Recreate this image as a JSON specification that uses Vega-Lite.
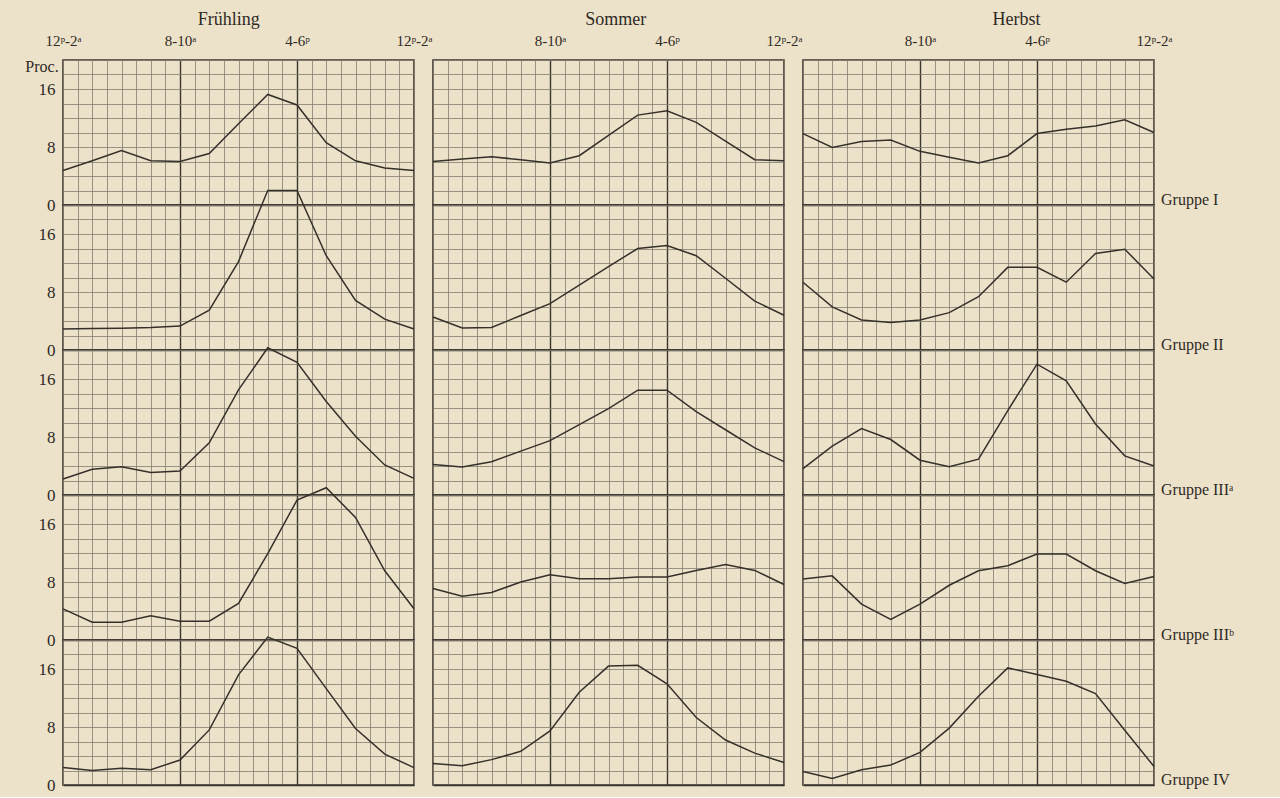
{
 "$schema": "https://vega.github.io/schema/vega-lite/v6.json",
 "background": "#ece2c9",
 "padding": {"left": 25, "top": 11, "right": 52, "bottom": 4},
 "config": {
  "font": "Liberation Serif",
  "view": {"stroke": "#3a352f", "strokeWidth": 1.6},
  "title": {"fontSize": 18, "fontWeight": "normal", "color": "#2f2a25", "offset": 4, "font": "Liberation Serif", "anchor": "middle"},
  "axis": {"labelFont": "Liberation Serif", "labelFontSize": 15, "labelColor": "#2f2a25", "ticks": false, "domain": false, "title": null, "gridOpacity": 1, "minExtent": 0},
  "header": {"labelFont": "Liberation Serif", "titleFont": "Liberation Serif", "labelColor": "#2f2a25", "titleColor": "#2f2a25", "titleFontWeight": "normal"}
 },
 "datasets": {
  "fr": [
   {"g":"Gruppe I","t":0,"v":4.75},{"g":"Gruppe I","t":2,"v":6.1},{"g":"Gruppe I","t":4,"v":7.5},{"g":"Gruppe I","t":6,"v":6.1},{"g":"Gruppe I","t":8,"v":6.0},{"g":"Gruppe I","t":10,"v":7.1},{"g":"Gruppe I","t":12,"v":11.2},{"g":"Gruppe I","t":14,"v":15.25},{"g":"Gruppe I","t":16,"v":13.8},{"g":"Gruppe I","t":18,"v":8.6},{"g":"Gruppe I","t":20,"v":6.1},{"g":"Gruppe I","t":22,"v":5.1},{"g":"Gruppe I","t":24,"v":4.75},
   {"g":"Gruppe II","t":0,"v":2.9},{"g":"Gruppe II","t":2,"v":2.95},{"g":"Gruppe II","t":4,"v":3.0},{"g":"Gruppe II","t":6,"v":3.1},{"g":"Gruppe II","t":8,"v":3.3},{"g":"Gruppe II","t":10,"v":5.5},{"g":"Gruppe II","t":12,"v":12.2},{"g":"Gruppe II","t":14,"v":22.0},{"g":"Gruppe II","t":16,"v":22.0},{"g":"Gruppe II","t":18,"v":13.0},{"g":"Gruppe II","t":20,"v":6.85},{"g":"Gruppe II","t":22,"v":4.25},{"g":"Gruppe II","t":24,"v":2.9},
   {"g":"Gruppe IIIᵃ","t":0,"v":2.2},{"g":"Gruppe IIIᵃ","t":2,"v":3.55},{"g":"Gruppe IIIᵃ","t":4,"v":3.9},{"g":"Gruppe IIIᵃ","t":6,"v":3.1},{"g":"Gruppe IIIᵃ","t":8,"v":3.3},{"g":"Gruppe IIIᵃ","t":10,"v":7.2},{"g":"Gruppe IIIᵃ","t":12,"v":14.5},{"g":"Gruppe IIIᵃ","t":14,"v":20.3},{"g":"Gruppe IIIᵃ","t":16,"v":18.3},{"g":"Gruppe IIIᵃ","t":18,"v":12.9},{"g":"Gruppe IIIᵃ","t":20,"v":8.1},{"g":"Gruppe IIIᵃ","t":22,"v":4.15},{"g":"Gruppe IIIᵃ","t":24,"v":2.3},
   {"g":"Gruppe IIIᵇ","t":0,"v":4.3},{"g":"Gruppe IIIᵇ","t":2,"v":2.45},{"g":"Gruppe IIIᵇ","t":4,"v":2.45},{"g":"Gruppe IIIᵇ","t":6,"v":3.35},{"g":"Gruppe IIIᵇ","t":8,"v":2.6},{"g":"Gruppe IIIᵇ","t":10,"v":2.6},{"g":"Gruppe IIIᵇ","t":12,"v":5.05},{"g":"Gruppe IIIᵇ","t":14,"v":11.9},{"g":"Gruppe IIIᵇ","t":16,"v":19.3},{"g":"Gruppe IIIᵇ","t":18,"v":21.0},{"g":"Gruppe IIIᵇ","t":20,"v":16.9},{"g":"Gruppe IIIᵇ","t":22,"v":9.55},{"g":"Gruppe IIIᵇ","t":24,"v":4.3},
   {"g":"Gruppe IV","t":0,"v":2.4},{"g":"Gruppe IV","t":2,"v":2.0},{"g":"Gruppe IV","t":4,"v":2.3},{"g":"Gruppe IV","t":6,"v":2.1},{"g":"Gruppe IV","t":8,"v":3.45},{"g":"Gruppe IV","t":10,"v":7.6},{"g":"Gruppe IV","t":12,"v":15.2},{"g":"Gruppe IV","t":14,"v":20.4},{"g":"Gruppe IV","t":16,"v":18.85},{"g":"Gruppe IV","t":18,"v":13.3},{"g":"Gruppe IV","t":20,"v":7.8},{"g":"Gruppe IV","t":22,"v":4.25},{"g":"Gruppe IV","t":24,"v":2.4}
  ],
  "so": [
   {"g":"Gruppe I","t":0,"v":6.0},{"g":"Gruppe I","t":2,"v":6.35},{"g":"Gruppe I","t":4,"v":6.65},{"g":"Gruppe I","t":6,"v":6.25},{"g":"Gruppe I","t":8,"v":5.8},{"g":"Gruppe I","t":10,"v":6.8},{"g":"Gruppe I","t":12,"v":9.6},{"g":"Gruppe I","t":14,"v":12.4},{"g":"Gruppe I","t":16,"v":13.0},{"g":"Gruppe I","t":18,"v":11.4},{"g":"Gruppe I","t":20,"v":8.8},{"g":"Gruppe I","t":22,"v":6.25},{"g":"Gruppe I","t":24,"v":6.1},
   {"g":"Gruppe II","t":0,"v":4.55},{"g":"Gruppe II","t":2,"v":3.05},{"g":"Gruppe II","t":4,"v":3.1},{"g":"Gruppe II","t":6,"v":4.75},{"g":"Gruppe II","t":8,"v":6.4},{"g":"Gruppe II","t":10,"v":8.95},{"g":"Gruppe II","t":12,"v":11.5},{"g":"Gruppe II","t":14,"v":14.0},{"g":"Gruppe II","t":16,"v":14.4},{"g":"Gruppe II","t":18,"v":13.0},{"g":"Gruppe II","t":20,"v":9.9},{"g":"Gruppe II","t":22,"v":6.75},{"g":"Gruppe II","t":24,"v":4.8},
   {"g":"Gruppe IIIᵃ","t":0,"v":4.2},{"g":"Gruppe IIIᵃ","t":2,"v":3.85},{"g":"Gruppe IIIᵃ","t":4,"v":4.6},{"g":"Gruppe IIIᵃ","t":6,"v":6.05},{"g":"Gruppe IIIᵃ","t":8,"v":7.5},{"g":"Gruppe IIIᵃ","t":10,"v":9.7},{"g":"Gruppe IIIᵃ","t":12,"v":11.9},{"g":"Gruppe IIIᵃ","t":14,"v":14.45},{"g":"Gruppe IIIᵃ","t":16,"v":14.45},{"g":"Gruppe IIIᵃ","t":18,"v":11.5},{"g":"Gruppe IIIᵃ","t":20,"v":9.0},{"g":"Gruppe IIIᵃ","t":22,"v":6.5},{"g":"Gruppe IIIᵃ","t":24,"v":4.6},
   {"g":"Gruppe IIIᵇ","t":0,"v":7.1},{"g":"Gruppe IIIᵇ","t":2,"v":6.05},{"g":"Gruppe IIIᵇ","t":4,"v":6.55},{"g":"Gruppe IIIᵇ","t":6,"v":8.0},{"g":"Gruppe IIIᵇ","t":8,"v":9.0},{"g":"Gruppe IIIᵇ","t":10,"v":8.45},{"g":"Gruppe IIIᵇ","t":12,"v":8.45},{"g":"Gruppe IIIᵇ","t":14,"v":8.7},{"g":"Gruppe IIIᵇ","t":16,"v":8.7},{"g":"Gruppe IIIᵇ","t":18,"v":9.6},{"g":"Gruppe IIIᵇ","t":20,"v":10.4},{"g":"Gruppe IIIᵇ","t":22,"v":9.6},{"g":"Gruppe IIIᵇ","t":24,"v":7.65},
   {"g":"Gruppe IV","t":0,"v":2.95},{"g":"Gruppe IV","t":2,"v":2.65},{"g":"Gruppe IV","t":4,"v":3.5},{"g":"Gruppe IV","t":6,"v":4.65},{"g":"Gruppe IV","t":8,"v":7.45},{"g":"Gruppe IV","t":10,"v":12.8},{"g":"Gruppe IV","t":12,"v":16.4},{"g":"Gruppe IV","t":14,"v":16.5},{"g":"Gruppe IV","t":16,"v":13.95},{"g":"Gruppe IV","t":18,"v":9.3},{"g":"Gruppe IV","t":20,"v":6.2},{"g":"Gruppe IV","t":22,"v":4.4},{"g":"Gruppe IV","t":24,"v":3.1}
  ],
  "he": [
   {"g":"Gruppe I","t":0,"v":9.85},{"g":"Gruppe I","t":2,"v":7.95},{"g":"Gruppe I","t":4,"v":8.75},{"g":"Gruppe I","t":6,"v":8.95},{"g":"Gruppe I","t":8,"v":7.4},{"g":"Gruppe I","t":10,"v":6.6},{"g":"Gruppe I","t":12,"v":5.8},{"g":"Gruppe I","t":14,"v":6.8},{"g":"Gruppe I","t":16,"v":9.85},{"g":"Gruppe I","t":18,"v":10.45},{"g":"Gruppe I","t":20,"v":10.9},{"g":"Gruppe I","t":22,"v":11.75},{"g":"Gruppe I","t":24,"v":10.0},
   {"g":"Gruppe II","t":0,"v":9.35},{"g":"Gruppe II","t":2,"v":5.95},{"g":"Gruppe II","t":4,"v":4.15},{"g":"Gruppe II","t":6,"v":3.8},{"g":"Gruppe II","t":8,"v":4.15},{"g":"Gruppe II","t":10,"v":5.15},{"g":"Gruppe II","t":12,"v":7.35},{"g":"Gruppe II","t":14,"v":11.4},{"g":"Gruppe II","t":16,"v":11.4},{"g":"Gruppe II","t":18,"v":9.35},{"g":"Gruppe II","t":20,"v":13.3},{"g":"Gruppe II","t":22,"v":13.9},{"g":"Gruppe II","t":24,"v":9.8},
   {"g":"Gruppe IIIᵃ","t":0,"v":3.65},{"g":"Gruppe IIIᵃ","t":2,"v":6.75},{"g":"Gruppe IIIᵃ","t":4,"v":9.15},{"g":"Gruppe IIIᵃ","t":6,"v":7.65},{"g":"Gruppe IIIᵃ","t":8,"v":4.8},{"g":"Gruppe IIIᵃ","t":10,"v":3.9},{"g":"Gruppe IIIᵃ","t":12,"v":4.95},{"g":"Gruppe IIIᵃ","t":14,"v":11.65},{"g":"Gruppe IIIᵃ","t":16,"v":18.05},{"g":"Gruppe IIIᵃ","t":18,"v":15.75},{"g":"Gruppe IIIᵃ","t":20,"v":9.8},{"g":"Gruppe IIIᵃ","t":22,"v":5.4},{"g":"Gruppe IIIᵃ","t":24,"v":4.0},
   {"g":"Gruppe IIIᵇ","t":0,"v":8.4},{"g":"Gruppe IIIᵇ","t":2,"v":8.85},{"g":"Gruppe IIIᵇ","t":4,"v":4.95},{"g":"Gruppe IIIᵇ","t":6,"v":2.85},{"g":"Gruppe IIIᵇ","t":8,"v":4.95},{"g":"Gruppe IIIᵇ","t":10,"v":7.55},{"g":"Gruppe IIIᵇ","t":12,"v":9.55},{"g":"Gruppe IIIᵇ","t":14,"v":10.25},{"g":"Gruppe IIIᵇ","t":16,"v":11.85},{"g":"Gruppe IIIᵇ","t":18,"v":11.85},{"g":"Gruppe IIIᵇ","t":20,"v":9.55},{"g":"Gruppe IIIᵇ","t":22,"v":7.8},{"g":"Gruppe IIIᵇ","t":24,"v":8.75},
   {"g":"Gruppe IV","t":0,"v":1.85},{"g":"Gruppe IV","t":2,"v":0.9},{"g":"Gruppe IV","t":4,"v":2.1},{"g":"Gruppe IV","t":6,"v":2.75},{"g":"Gruppe IV","t":8,"v":4.5},{"g":"Gruppe IV","t":10,"v":7.85},{"g":"Gruppe IV","t":12,"v":12.25},{"g":"Gruppe IV","t":14,"v":16.15},{"g":"Gruppe IV","t":16,"v":15.25},{"g":"Gruppe IV","t":18,"v":14.3},{"g":"Gruppe IV","t":20,"v":12.6},{"g":"Gruppe IV","t":22,"v":7.55},{"g":"Gruppe IV","t":24,"v":2.55}
  ]
 },
 "spacing": -11,
 "hconcat": [
  {
   "title": "Frühling",
   "data": {"name": "fr"},
   "spacing": 0,
   "bounds": "flush",
   "facet": {"row": {"field": "g", "type": "nominal", "sort": ["Gruppe I", "Gruppe II", "Gruppe IIIᵃ", "Gruppe IIIᵇ", "Gruppe IV"],
     "header": {"labels": false, "title": "Proc.", "titleOrient": "left", "titleAngle": 0, "titleAnchor": "end", "titleAlign": "right", "titleBaseline": "top", "titleFontSize": 16, "titlePadding": -64}}},
   "spec": {
    "width": 351, "height": 145,
    "mark": {"type": "line", "color": "#35302a", "strokeWidth": 1.5, "clip": false},
    "encoding": {
     "x": {"field": "t", "type": "quantitative", "scale": {"domain": [0, 24], "nice": false, "zero": false},
      "axis": {"orient": "top", "values": [0,1,2,3,4,5,6,7,8,9,10,11,12,13,14,15,16,17,18,19,20,21,22,23,24],
       "labelExpr": "datum.value == 0 || datum.value == 24 ? '12ᵖ-2ᵃ' : datum.value == 8 ? '8-10ᵃ' : datum.value == 16 ? '4-6ᵖ' : ''",
       "labelOverlap": false, "labelFlush": false, "labelPadding": 12,
       "gridColor": {"condition": {"test": "datum.value == 8 || datum.value == 16", "value": "#3a352f"}, "value": "#847c6e"},
       "gridWidth": {"condition": {"test": "datum.value == 8 || datum.value == 16", "value": 1.4}, "value": 0.8}}},
     "y": {"field": "v", "type": "quantitative", "scale": {"domain": [0, 20], "nice": false},
      "axis": {"values": [0,2,4,6,8,10,12,14,16,18,20],
       "labelExpr": "datum.value == 0 || datum.value == 8 || datum.value == 16 ? datum.label : ''",
       "labelOverlap": false, "labelFlush": false, "labelPadding": 8, "labelFontSize": 17,
       "gridColor": {"condition": {"test": "datum.value == 0", "value": "#3a352f"}, "value": "#847c6e"},
       "gridWidth": {"condition": {"test": "datum.value == 0", "value": 1.4}, "value": 0.8}}}
    }
   }
  },
  {
   "title": "Sommer",
   "data": {"name": "so"},
   "spacing": 0,
   "bounds": "flush",
   "facet": {"row": {"field": "g", "type": "nominal", "sort": ["Gruppe I", "Gruppe II", "Gruppe IIIᵃ", "Gruppe IIIᵇ", "Gruppe IV"],
     "header": {"labels": false, "title": null}}},
   "spec": {
    "width": 351, "height": 145,
    "mark": {"type": "line", "color": "#35302a", "strokeWidth": 1.5, "clip": false},
    "encoding": {
     "x": {"field": "t", "type": "quantitative", "scale": {"domain": [0, 24], "nice": false, "zero": false},
      "axis": {"orient": "top", "values": [0,1,2,3,4,5,6,7,8,9,10,11,12,13,14,15,16,17,18,19,20,21,22,23,24],
       "labelExpr": "datum.value == 24 ? '12ᵖ-2ᵃ' : datum.value == 8 ? '8-10ᵃ' : datum.value == 16 ? '4-6ᵖ' : ''",
       "labelOverlap": false, "labelFlush": false, "labelPadding": 12,
       "gridColor": {"condition": {"test": "datum.value == 8 || datum.value == 16", "value": "#3a352f"}, "value": "#847c6e"},
       "gridWidth": {"condition": {"test": "datum.value == 8 || datum.value == 16", "value": 1.4}, "value": 0.8}}},
     "y": {"field": "v", "type": "quantitative", "scale": {"domain": [0, 20], "nice": false},
      "axis": {"values": [0,2,4,6,8,10,12,14,16,18,20], "labels": false, "labelPadding": 0,
       "gridColor": {"condition": {"test": "datum.value == 0", "value": "#3a352f"}, "value": "#847c6e"},
       "gridWidth": {"condition": {"test": "datum.value == 0", "value": 1.4}, "value": 0.8}}}
    }
   }
  },
  {
   "title": "Herbst",
   "data": {"name": "he"},
   "spacing": 0,
   "bounds": "flush",
   "facet": {"row": {"field": "g", "type": "nominal", "sort": ["Gruppe I", "Gruppe II", "Gruppe IIIᵃ", "Gruppe IIIᵇ", "Gruppe IV"],
     "header": {"title": null, "labelOrient": "right", "labelAngle": 0, "labelAnchor": "end", "labelBaseline": "alphabetic", "labelFontSize": 16, "labelPadding": 7}}},
   "spec": {
    "width": 351, "height": 145,
    "mark": {"type": "line", "color": "#35302a", "strokeWidth": 1.5, "clip": false},
    "encoding": {
     "x": {"field": "t", "type": "quantitative", "scale": {"domain": [0, 24], "nice": false, "zero": false},
      "axis": {"orient": "top", "values": [0,1,2,3,4,5,6,7,8,9,10,11,12,13,14,15,16,17,18,19,20,21,22,23,24],
       "labelExpr": "datum.value == 24 ? '12ᵖ-2ᵃ' : datum.value == 8 ? '8-10ᵃ' : datum.value == 16 ? '4-6ᵖ' : ''",
       "labelOverlap": false, "labelFlush": false, "labelPadding": 12,
       "gridColor": {"condition": {"test": "datum.value == 8 || datum.value == 16", "value": "#3a352f"}, "value": "#847c6e"},
       "gridWidth": {"condition": {"test": "datum.value == 8 || datum.value == 16", "value": 1.4}, "value": 0.8}}},
     "y": {"field": "v", "type": "quantitative", "scale": {"domain": [0, 20], "nice": false},
      "axis": {"values": [0,2,4,6,8,10,12,14,16,18,20], "labels": false, "labelPadding": 0,
       "gridColor": {"condition": {"test": "datum.value == 0", "value": "#3a352f"}, "value": "#847c6e"},
       "gridWidth": {"condition": {"test": "datum.value == 0", "value": 1.4}, "value": 0.8}}}
    }
   }
  }
 ]
}
